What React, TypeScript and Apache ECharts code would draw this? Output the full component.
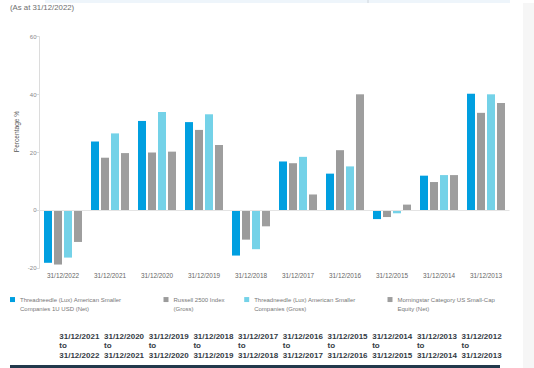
import React, { useEffect, useRef } from "react";
import * as echarts from "echarts";

const categories = ["31/12/2022", "31/12/2021", "31/12/2020", "31/12/2019", "31/12/2018", "31/12/2017", "31/12/2016", "31/12/2015", "31/12/2014", "31/12/2013"];
const periodStarts = ["31/12/2021", "31/12/2020", "31/12/2019", "31/12/2018", "31/12/2017", "31/12/2016", "31/12/2015", "31/12/2014", "31/12/2013", "31/12/2012"];
const periodEnds = ["31/12/2022", "31/12/2021", "31/12/2020", "31/12/2019", "31/12/2018", "31/12/2017", "31/12/2016", "31/12/2015", "31/12/2014", "31/12/2013"];

const seriesNames = [
  "Threadneedle (Lux) American Smaller Companies 1U USD (Net)",
  "Russell 2500 Index (Gross)",
  "Threadneedle (Lux) American Smaller Companies (Gross)",
  "Morningstar Category US Small-Cap Equity (Net)",
];
const legendLines = [
  ["Threadneedle (Lux) American Smaller", "Companies 1U USD (Net)"],
  ["Russell 2500 Index", "(Gross)"],
  ["Threadneedle (Lux) American Smaller", "Companies (Gross)"],
  ["Morningstar Category US Small-Cap", "Equity (Net)"],
];

const fundNet = [-18.1, 23.8, 30.9, 30.5, -15.6, 16.9, 12.7, -3.0, 12.0, 40.3];
const russell2500 = [-18.7, 18.2, 20.0, 27.8, -10.1, 16.3, 20.8, -2.3, 9.8, 33.7];
const fundGross = [-16.3, 26.6, 34.0, 33.2, -13.4, 18.5, 15.2, -1.0, 12.2, 40.1];
const morningstar = [-10.9, 19.8, 20.3, 22.6, -5.5, 5.5, 40.1, 2.0, 12.2, 37.1];

const yTicks = { min: -20, max: 60, interval: 20 };

const colors = ["#009fe0", "#9b9b9b", "#74d2e8", "#9e9e9e"];
const FONT = "Liberation Sans, Arial, sans-serif";

export default function App() {
  const ref = useRef<HTMLDivElement>(null);

  useEffect(() => {
    if (!ref.current) return;
    const chart = echarts.init(ref.current, null, { renderer: "svg" });
    const data = [fundNet, russell2500, fundGross, morningstar];
    const legendLeft = [10, 163.5, 244.2, 387.5];

    const tableTexts = periodStarts.map((s, i) => ({
      type: "text",
      left: 59.3 + i * 44.7,
      top: 331.5,
      style: {
        text: `${s}\nto\n${periodEnds[i]}`,
        font: `bold 8px ${FONT}`,
        lineHeight: 9.6,
        fill: "#343b44",
      },
    }));

    chart.setOption({
      animation: false,
      textStyle: { fontFamily: FONT },
      grid: { left: 39.5, right: 24.5, top: 36.7, bottom: 99.7, containLabel: false },
      legend: seriesNames.map((n, i) => ({
        data: [n],
        left: legendLeft[i],
        top: 285.3,
        padding: 0,
        icon: "rect",
        itemWidth: 5,
        itemHeight: 5,
        selectedMode: false,
        formatter: () => `\n${legendLines[i][0]}\n${legendLines[i][1]}`,
        textStyle: { fontSize: 6, color: "#777", lineHeight: 9.5, fontFamily: FONT },
      })),
      xAxis: {
        type: "category",
        data: categories,
        axisLine: { show: false, onZero: false },
        axisTick: { show: false },
        axisLabel: { fontSize: 6.4, color: "#666", margin: 4, interval: 0 },
        splitLine: { show: false },
      },
      yAxis: {
        type: "value",
        min: yTicks.min,
        max: yTicks.max,
        interval: yTicks.interval,
        axisLine: { show: true, lineStyle: { color: "#dcdcdc", width: 1 } },
        axisTick: { show: true, length: 3, lineStyle: { color: "#dcdcdc" } },
        axisLabel: { fontSize: 6, color: "#888", margin: 3 },
        splitLine: { show: false },
      },
      series: data.map((d, i) => ({
        type: "bar",
        name: seriesNames[i],
        data: d,
        barWidth: 8,
        barGap: "25%",
        itemStyle: { color: colors[i] },
        ...(i === 0
          ? {
              markLine: {
                silent: true,
                symbol: "none",
                label: { show: false },
                lineStyle: { color: "#e4e4e4", type: "solid", width: 1 },
                data: [{ yAxis: 0 }],
              },
            }
          : {}),
      })),
      graphic: [
        { type: "rect", shape: { x: 45, y: 0, width: 465, height: 3 }, style: { fill: "#eef5fb" }, silent: true },
        { type: "line", shape: { x1: 368, y1: 0, x2: 368, y2: 3 }, style: { stroke: "#d0d6dc", lineWidth: 1 }, silent: true },
        { type: "rect", shape: { x: 523, y: 3, width: 11, height: 365 }, style: { fill: "#f6f6f6" }, silent: true },
        {
          type: "text",
          left: 10,
          top: 3.5,
          style: { text: "(As at 31/12/2022)", font: `7.8px ${FONT}`, fill: "#6e6e6e" },
        },
        {
          type: "text",
          x: 16.5,
          y: 131.5,
          rotation: Math.PI / 2,
          style: {
            text: "Percentage %",
            font: `6.6px ${FONT}`,
            fill: "#555",
            align: "center",
            verticalAlign: "middle",
          },
        },
        ...tableTexts,
        { type: "rect", shape: { x: 10, y: 365, width: 490, height: 3 }, style: { fill: "#22394c" }, silent: true },
      ],
    });
    return () => chart.dispose();
  }, []);

  return (
    <div
      ref={ref}
      style={{ position: "absolute", left: 0, top: 0, width: 534, height: 368, background: "#fff" }}
    />
  );
}
